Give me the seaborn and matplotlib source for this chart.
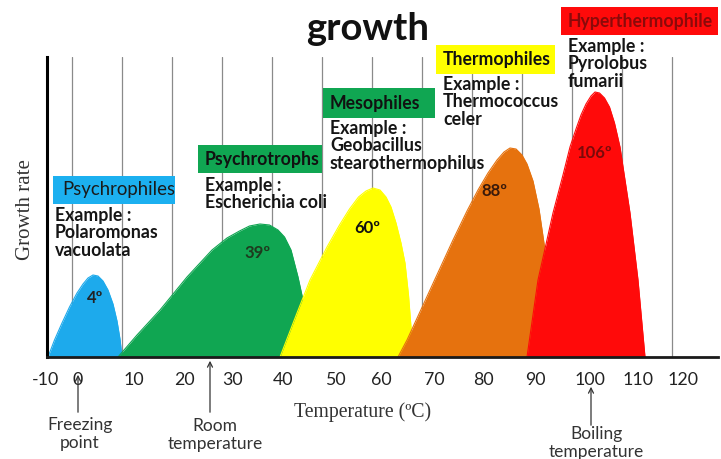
import matplotlib
matplotlib.use("Agg")
import matplotlib.pyplot as plt
import matplotlib.patches as mpatches
import seaborn as sns
import pandas as pd

# Growth-rate curves (temperature in ºC, relative growth rate)
psychro_t = [-4.8, -3.5, -2.0, -0.5, 1.0, 2.2, 3.2, 4.2, 5.2, 6.2, 7.2, 8.2, 9.0, 9.6, 10.0]
psychro_g = [0, 17, 34, 50, 64, 73, 79, 82, 81, 76, 67, 53, 36, 18, 0]

trophs_t = [9.2, 13.0, 17.6, 23.0, 28.0, 31.0, 33.5, 35.5, 37.6, 39.5, 41.2, 42.5, 43.8, 45.2, 46.5, 47.5, 48.0]
trophs_g = [0, 22, 47, 80, 107, 119, 126, 131, 133, 132, 127, 120, 107, 80, 50, 25, 0]

meso_t = [41.6, 45.0, 47.6, 51.0, 53.5, 55.5, 57.3, 58.8, 60.2, 61.6, 62.8, 63.8, 64.8, 65.8, 66.6, 67.3, 67.8, 68.0]
meso_g = [0, 44, 77, 110, 132, 148, 160, 166, 169, 167, 160, 150, 134, 114, 94, 62, 30, 0]

thermo_t = [65.2, 67.0, 71.6, 76.2, 79.0, 81.2, 83.2, 85.0, 86.4, 87.6, 88.8, 90.0, 91.0, 92.2, 93.4, 94.6, 95.4, 96.0]
thermo_g = [0, 17, 67, 117, 146, 167, 184, 197, 205, 209, 208, 202, 193, 176, 148, 107, 60, 0]

hyper_t = [91.0, 93.2, 96.2, 98.2, 99.6, 100.8, 101.8, 102.8, 103.8, 104.6, 105.5, 106.5, 107.5, 108.5, 109.6, 111.6, 113.2, 114.6]
hyper_g = [0, 77, 144, 182, 210, 228, 242, 253, 261, 265, 264, 259, 250, 234, 210, 144, 77, 0]

# Group names, examples and optimum temperatures
groups = ["Psychrophiles", "Psychrotrophs", "Mesophiles", "Thermophiles", "Hyperthermophile"]
examples = ["Example :\nPolaromonas\nvacuolata",
            "Example :\nEscherichia coli",
            "Example :\nGeobacillus\nstearothermophilus",
            "Example :\nThermococcus\nceler",
            "Example :\nPyrolobus\nfumarii"]
optima = ["4º", "39º", "60º", "88º", "106º"]

# Axis tick labels
tick_labels = ["-10", "0", "10", "20", "30", "40", "50", "60", "70", "80", "90", "100", "110", "120"]
tick_label_pos = [-5.2, 1.2, 12.4, 22.4, 32.2, 42.2, 52.6, 61.8, 72.4, 82.2, 92.6, 103.6, 113.2, 122.2]
grid_temps = [0, 10, 20, 30, 40, 50, 60, 70, 80, 90, 100, 110, 120]

sns.set_theme(style="white")
plt.rcParams["font.family"] = ["Lato", "DejaVu Sans"]

fig = plt.figure(figsize=(7.21, 4.59), dpi=100)
ax = fig.add_axes([47 / 721, 1 - 357 / 459, (718 - 47) / 721, 300 / 459])
ax.set_xlim(-5, 129.2)
ax.set_ylim(0, 300)

for gx in grid_temps:
    ax.axvline(gx, color="#8a8a8a", lw=0.9, zorder=0)

curves = [
    (psychro_t, psychro_g, "#1DAAEC"),
    (trophs_t, trophs_g, "#10A652"),
    (meso_t, meso_g, "#FFFF00"),
    (thermo_t, thermo_g, "#E6720E"),
    (hyper_t, hyper_g, "#FF0A0A"),
]
for i, (t, g, col) in enumerate(curves):
    df = pd.DataFrame({"temp": t, "rate": g})
    ax.fill_between(df["temp"], 0, df["rate"], color=col, lw=0, zorder=2 + i)
    sns.lineplot(data=df, x="temp", y="rate", ax=ax, color=col, lw=0.8,
                 sort=False, zorder=2 + i)

ax.set_xlabel("")
ax.set_ylabel("")
ax.set_xticks([])
ax.set_yticks([])
for s in ["top", "right"]:
    ax.spines[s].set_visible(False)
ax.spines["left"].set_color("black")
ax.spines["left"].set_linewidth(2.2)
ax.spines["bottom"].set_color("#1a1a1a")
ax.spines["bottom"].set_linewidth(2.0)
ax.spines["left"].set_zorder(10)
ax.spines["bottom"].set_zorder(10)

# tick labels
for lab, pos in zip(tick_labels, tick_label_pos):
    ax.text(pos, -23, lab, ha="center", va="center", fontsize=12.8,
            color="#222222", clip_on=False)

# group header boxes
box_specs = [
    (-3.8, 20.6, 153, 181, "#1CB0F0", "#1a1a1a", "normal", 13.4, -2.0),
    (25.2, 50.0, 184, 212, "#10A652", "#111111", "bold", 12.7, 26.6),
    (50.2, 72.6, 239, 269, "#10A652", "#111111", "bold", 12.7, 51.6),
    (72.8, 96.6, 283, 312, "#FFFF00", "#111111", "bold", 12.7, 74.2),
    (97.8, 129.2, 322, 350, "#FF0A0A", "#8B0A0A", "bold", 12.7, 99.2),
]
example_pos = [(-3.4, 150), (26.6, 180), (51.6, 237), (74.2, 281), (99.2, 319)]
for name, ex, (x0, x1, y0, y1, fc, tc, fw, fs, tx), (exx, exy) in zip(
        groups, examples, box_specs, example_pos):
    ax.add_patch(mpatches.Rectangle((x0, y0), x1 - x0, y1 - y0, facecolor=fc,
                                    edgecolor="none", clip_on=False, zorder=8))
    ax.text(tx, (y0 + y1) / 2, name, ha="left", va="center", fontsize=fs,
            fontweight=fw, color=tc, clip_on=False, zorder=9)
    ax.text(exx, exy, ex, ha="left", va="top", fontsize=12.8, fontweight="bold",
            color="#151515", linespacing=1.02, clip_on=False, zorder=9)

# optimum temperature labels on the curves
opt_pos = [(4.6, 59), (37.0, 104), (59.0, 129), (84.4, 166), (104.6, 204)]
opt_cols = ["#222222", "#1e3a1e", "#111111", "#3a1a0a", "#7a0a0a"]
for lab, (ox, oy), oc in zip(optima, opt_pos, opt_cols):
    ax.text(ox, oy, lab, ha="center", va="center", fontsize=12,
            fontweight="bold", color=oc, zorder=9)

# reference temperature arrows
arrow_kw = dict(arrowstyle="->", color="#333333", lw=0.9, mutation_scale=9)
ax.annotate("", xy=(1.2, -15), xytext=(1.2, -58), arrowprops=arrow_kw,
            annotation_clip=False)
ax.annotate("", xy=(27.6, -1), xytext=(27.6, -58), arrowprops=arrow_kw,
            annotation_clip=False)
ax.annotate("", xy=(103.8, -27), xytext=(103.8, -71), arrowprops=arrow_kw,
            annotation_clip=False)
ax.text(1.6, -77, "Freezing\npoint", ha="center", va="center", fontsize=12.5,
        color="#333333", linespacing=1.2, clip_on=False)
ax.text(28.6, -78, "Room\ntemperature", ha="center", va="center", fontsize=12.5,
        color="#333333", linespacing=1.2, clip_on=False)
ax.text(104.8, -86, "Boiling\ntemperature", ha="center", va="center",
        fontsize=12.5, color="#333333", linespacing=1.1, clip_on=False)

# axis titles and heading
ax.text(58.2, -55, "Temperature (ºC)", ha="center", va="center", fontsize=14.2,
        family=["Liberation Serif", "DejaVu Serif"], color="#333333",
        clip_on=False)
ax.text(-9.2, 147, "Growth rate", ha="center", va="center", rotation=90,
        fontsize=15, family=["Liberation Serif", "DejaVu Serif"],
        color="#333333", clip_on=False)
ax.text(59.2, 328, "growth", ha="center", va="center", fontsize=27.5,
        fontweight="bold", color="#111111", clip_on=False)

fig.savefig("out.png", dpi=100, facecolor="white")
